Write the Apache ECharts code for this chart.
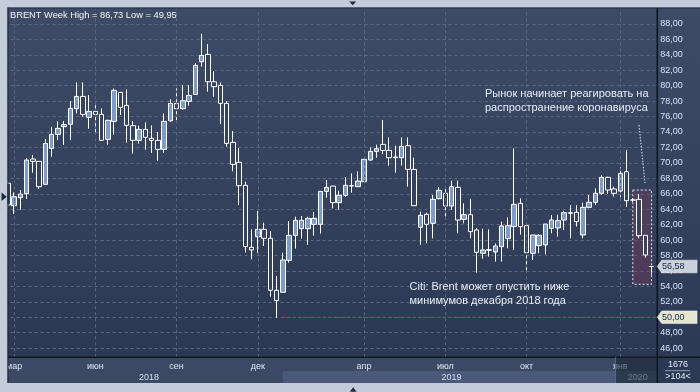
<!DOCTYPE html>
<html>
<head>
<meta charset="utf-8">
<script src="https://cdn.jsdelivr.net/npm/echarts@6/dist/echarts.min.js"></script>
<style>
html,body{margin:0;padding:0;background:#c3ccd9;}
#c{width:700px;height:392px;}
</style>
</head>
<body>
<div id="c"></div>
<script>
// ---- data (weekly BRENT candles) ----
const firstWeek = '2018-02-26';
const opens = [67.36,64.46,65.49,66.01,70.50,70.20,67.22,71.88,73.69,74.69,
74.99,77.02,78.61,75.90,76.67,76.28,73.05,75.38,79.13,77.45,
74.82,72.92,74.34,73.18,72.92,71.75,75.46,77.71,77.02,77.97,
78.87,83.10,84.05,80.51,80.04,77.71,72.66,70.07,67.09,59.06,
60.44,61.39,60.23,53.50,53.24,57.38,60.62,61.48,61.48,62.04,
62.04,66.31,67.00,64.85,65.80,67.05,66.92,67.57,70.37,71.49,
72.40,71.62,70.76,70.67,72.23,69.16,61.65,63.34,62.17,65.36,
66.06,64.41,66.83,62.69,63.29,61.31,58.29,58.68,58.46,59.15,
60.19,61.74,64.76,61.87,58.29,59.28,59.37,61.52,61.57,62.60,
63.55,63.60,60.66,64.24,64.89,66.06,68.13,66.62,66.35,68.85,
65.19,65.28,60.62,56.58];
const closes = [64.55,65.62,65.97,70.37,70.20,66.92,72.53,73.69,74.47,74.95,
77.06,78.61,76.28,76.67,76.28,72.92,75.51,79.39,77.19,74.86,
72.92,74.34,73.31,72.92,71.75,75.38,77.71,77.02,78.05,78.74,
82.63,83.92,80.51,79.87,77.71,72.53,69.81,67.05,59.15,58.72,
61.39,60.23,53.50,52.16,57.42,60.62,62.56,62.56,62.82,62.82,
66.31,66.83,64.85,65.80,67.09,67.00,67.65,70.46,71.49,71.84,
71.62,70.67,70.67,72.14,69.16,64.46,63.21,62.04,65.28,66.44,
64.41,66.92,62.60,63.29,61.09,58.42,58.72,58.76,59.24,61.83,
61.87,64.63,61.74,58.37,60.66,60.62,62.08,62.60,62.52,63.55,
63.47,62.39,64.24,64.89,66.06,68.13,66.49,66.06,68.64,65.10,
65.19,60.57,58.07,56.58];
const lows = [63.90,63.38,63.90,65.32,68.73,66.62,67.22,70.80,72.96,72.31,
72.96,76.41,75.98,74.43,73.74,72.92,72.36,73.65,76.20,72.62,
71.19,72.49,71.71,71.28,70.28,71.28,75.33,75.55,76.85,77.41,
78.87,82.46,79.22,78.57,75.03,72.10,68.92,64.54,58.37,57.51,
58.37,59.24,52.68,49.95,53.24,57.08,58.89,60.19,59.37,60.57,
60.83,65.49,64.11,63.90,65.62,66.14,66.92,67.57,70.28,70.67,
71.15,69.64,68.73,69.64,66.92,64.46,59.37,59.58,60.23,65.28,
62.69,63.90,60.88,62.17,60.23,55.78,57.60,57.86,57.21,57.21,
58.93,58.72,60.70,56.00,57.42,58.29,58.16,60.88,60.44,61.31,
60.23,61.74,60.23,64.11,64.54,65.84,65.97,65.62,65.54,64.30,
64.95,60.23,57.72,55.48];
const highs = [67.80,66.18,66.49,70.63,71.02,70.25,73.09,74.69,75.38,75.42,
78.01,80.43,80.43,78.79,77.62,77.06,75.60,79.65,79.20,79.52,
75.42,74.82,75.25,74.86,74.00,76.41,78.23,79.65,80.08,80.08,
82.93,86.73,85.39,81.89,80.43,78.01,74.13,71.93,67.57,61.39,
63.77,62.26,61.18,55.35,58.37,62.47,63.03,63.12,63.03,63.64,
66.31,67.78,67.00,66.40,68.17,68.64,68.90,70.46,72.01,72.36,
75.55,73.31,72.23,73.31,73.31,70.67,63.68,63.55,65.84,66.88,
66.92,67.70,67.70,64.76,65.36,61.57,61.48,61.39,59.58,62.39,
62.95,71.88,65.41,61.87,60.66,60.79,62.08,63.25,63.29,63.81,
64.54,64.54,64.85,65.84,66.70,68.43,68.21,66.92,69.42,71.67,
65.45,65.97,60.62,56.58];

const yTickMin = 44, yTickMax = 90, yTickStep = 2;
const monthTickIdx = [1,14,27,40,57,70,83,98];
const monthTickLabels = ['мар','июн','сен','дек','апр','июл','окт','янв'];
const yearLabels = ['2018','2019','2020'];
const yearLabelPos = [22.6, 71.0, 100.8];
const yearBoundIdx = [44, 97];
const weekHigh = 86.73, weekLow = 49.95;
const lastPrice = 56.58, supportLevel = 50.00, supportFromIdx = 44;
const totalBars = 1676, visibleBars = 104;
const highlightFromIdx = 100, highlightToIdx = 103, highlightTop = 66.49, highlightBottom = 54.27;
const title = 'BRENT Week';
const note1 = 'Рынок начинает реагировать на\nраспространение коронавируса';
const note2 = 'Citi: Brent может опустить ниже\nминимумов декабря 2018 года';

// ---- build ----
const cats = [];
{ let t = Date.parse(firstWeek + 'T00:00:00Z');
  for (let i = 0; i < opens.length; i++) { cats.push(new Date(t).toISOString().slice(0,10)); t += 7*864e5; } }
const fmt = v => v.toFixed(2).replace('.', ',');
const FONT = '"Liberation Sans", Arial, sans-serif';
const gridColor = '#5a6882';
const plotBottomValue = 44.82;

const chart = echarts.init(document.getElementById('c'), null, {renderer:'canvas', width:700, height:392});
chart.setOption({
  backgroundColor: '#c3ccd9',
  animation: false,
  grid: {left: 4.675, right: 45.325, top: 8.5, bottom: 28.4},
  xAxis: [{
    type: 'category', data: cats, boundaryGap: true, offset: -6.3,
    axisLine: {show: false}, axisTick: {show: false}, splitLine: {show: false},
    axisLabel: {
      interval: (i) => monthTickIdx.includes(i),
      formatter: (v, i) => { const k = monthTickIdx.indexOf(i); return k >= 0 ? monthTickLabels[k] : ''; },
      color: '#dfe5f0', fontSize: 9, fontFamily: FONT, margin: 9, verticalAlign: 'middle'
    }
  }],
  yAxis: [{
    type: 'value', position: 'right', offset: 2.6, min: yTickMin, max: yTickMax, interval: yTickStep,
    axisLine: {show: false}, axisTick: {show: false},
    axisLabel: {formatter: fmt, color: '#d6e2f6', fontSize: 9, fontFamily: FONT, margin: 3, showMinLabel: false, showMaxLabel: false},
    splitLine: {show: true, showMinLine: false, showMaxLine: false, lineStyle: {color: gridColor, type: [3,3], width: 1}}
  }],
  series: [
    {
      type: 'line', data: [], z: 1, silent: true,
      markLine: {silent: true, symbol: 'none', label: {show: false}, animation: false,
        lineStyle: {color: gridColor, type: [3,3], width: 1},
        data: monthTickIdx.map(i => [{coord: [cats[i], plotBottomValue]}, {coord: [cats[i], yTickMax]}])}
    },
    {
      type: 'candlestick', z: 2, barWidth: 5,
      data: cats.map((c, i) => [opens[i], closes[i], lows[i], highs[i]]),
      itemStyle: {color: '#7f9cc8', color0: '#354260', borderColor: '#ffffff', borderColor0: '#ffffff', borderWidth: 1}
    },
    {
      type: 'line', data: [], z: 5, silent: true,
      markArea: {silent: true, animation: false,
        itemStyle: {color: 'rgba(135,62,90,0.33)', borderColor: '#e4e4ec', borderWidth: 1, borderType: [2,2]},
        data: [[{xAxis: cats[highlightFromIdx], yAxis: highlightTop}, {xAxis: cats[highlightToIdx], yAxis: highlightBottom}]]}
    }
  ]
});

const px = i => chart.convertToPixel({xAxisIndex: 0}, cats[i]);
const step = px(1) - px(0);
const pxF = f => px(0) + f * step;
const py = v => chart.convertToPixel({yAxisIndex: 0}, v);

const L = 8, T = 8, AX = 657.3, B = 357.3, BB = 383;
const grad = () => new echarts.graphic.LinearGradient(0, 0, 0, 1, [{offset: 0, color: '#3e4b67'}, {offset: 1, color: '#2c3853'}]);
const els = [];
els.push({type: 'rect', z: -10, shape: {x: L, y: T, width: AX - L, height: B - T}, style: {fill: grad()}});
els.push({type: 'rect', z: -10, shape: {x: AX, y: T, width: 700 - AX, height: BB - T}, style: {fill: grad()}});
els.push({type: 'rect', z: -10, shape: {x: L, y: B, width: AX - L, height: BB - B}, style: {fill: '#3c4965'}});
const yb = px(yearBoundIdx[0]);
els.push({type: 'rect', z: -9, shape: {x: yb, y: 371, width: AX - yb, height: BB - 371}, style: {fill: '#4a5977'}});
yearLabels.forEach((t, k) => els.push({type: 'text', z: 15, x: pxF(yearLabelPos[k]), y: 377.3,
  style: {text: t, fill: '#d8dfec', font: '9px ' + FONT, align: 'center', verticalAlign: 'middle'}}));
const ov = px(yearBoundIdx[1]) + 1;
els.push({type: 'rect', z: 20, shape: {x: ov, y: B, width: AX - ov, height: BB - B}, style: {fill: 'rgba(24,32,50,0.55)'}});
els.push({type: 'line', z: 21, shape: {x1: ov + 0.5, y1: B, x2: ov + 0.5, y2: BB}, style: {stroke: '#5a6884', lineWidth: 1}});
// frame lines
els.push({type: 'line', z: 8, shape: {x1: L, y1: B, x2: 700, y2: B}, style: {stroke: '#0e1522', lineWidth: 1.5}});
els.push({type: 'line', z: 8, shape: {x1: AX, y1: T, x2: AX, y2: BB}, style: {stroke: '#0e1522', lineWidth: 1.5}});
// support line
els.push({type: 'line', z: 6, shape: {x1: px(supportFromIdx), y1: py(supportLevel), x2: AX, y2: py(supportLevel)},
  style: {stroke: '#d02a40', lineWidth: 1, lineDash: [3, 2]}});
// price tags
function tag(v, fill) {
  const y = py(v);
  els.push({type: 'polygon', z: 30, shape: {points: [[AX, y], [AX + 4.5, y - 6.3], [697, y - 6.3], [697, y + 6.3], [AX + 4.5, y + 6.3]]},
    style: {fill: fill, stroke: '#eef1f5', lineWidth: 0.6}});
  els.push({type: 'text', z: 31, x: 662, y: y + 0.5, style: {text: fmt(v), fill: '#1d2840', font: '9px ' + FONT, align: 'left', verticalAlign: 'middle'}});
}
tag(lastPrice, '#c9d1dd');
tag(supportLevel, '#e4e6d2');
// bottom-right counters
els.push({type: 'text', z: 30, x: 678, y: 364.5, style: {text: String(totalBars), fill: '#e0e7f3', font: '9px ' + FONT, align: 'center', verticalAlign: 'middle'}});
els.push({type: 'line', z: 30, shape: {x1: 665, y1: 370.7, x2: 690, y2: 370.7}, style: {stroke: '#8e9cb6', lineWidth: 1}});
els.push({type: 'text', z: 30, x: 678, y: 377, style: {text: '>' + visibleBars + '<', fill: '#e0e7f3', font: '9px ' + FONT, align: 'center', verticalAlign: 'middle'}});
// header
els.push({type: 'text', z: 60, x: 10, y: 15, style: {text: title + ' High = ' + fmt(weekHigh) + ' Low = ' + fmt(weekLow),
  fill: '#f2f5fb', font: '9.3px ' + FONT, align: 'left', verticalAlign: 'middle'}});
// annotations
els.push({type: 'text', z: 60, x: 485, y: 87.5, style: {text: note1, fill: '#e8edf6', font: '11px ' + FONT, lineHeight: 13.5, align: 'left', verticalAlign: 'top'}});
els.push({type: 'text', z: 60, x: 409.5, y: 279.5, style: {text: note2, fill: '#e8edf6', font: '11px ' + FONT, lineHeight: 14, align: 'left', verticalAlign: 'top'}});
els.push({type: 'line', z: 60, shape: {x1: 639, y1: 125, x2: 645, y2: 183}, style: {stroke: '#c9cdd8', lineWidth: 1.2, lineDash: [1.5, 1.5]}});
// outer frame
els.push({type: 'rect', z: 50, shape: {x: 0, y: 0, width: 7.5, height: 392}, style: {fill: '#c3ccd9'}});
els.push({type: 'rect', z: 50, shape: {x: 0, y: 0, width: 700, height: 7.5}, style: {fill: '#c3ccd9'}});
els.push({type: 'rect', z: 50, shape: {x: 0, y: BB, width: 700, height: 392 - BB}, style: {fill: '#c3ccd9'}});
els.push({type: 'line', z: 51, shape: {x1: 7.9, y1: 7.5, x2: 7.9, y2: BB}, style: {stroke: '#1b2436', lineWidth: 1.2}});
els.push({type: 'line', z: 51, shape: {x1: 7.5, y1: 7.9, x2: 700, y2: 7.9}, style: {stroke: '#1b2436', lineWidth: 1}});
els.push({type: 'polygon', z: 52, shape: {points: [[1.5, 192.5], [6.8, 196.8], [1.5, 201]]}, style: {fill: '#1c2940'}});
els.push({type: 'polygon', z: 52, shape: {points: [[349.3, 1.5], [356.2, 1.5], [352.7, 5.3]]}, style: {fill: '#1c2940'}});
els.push({type: 'polygon', z: 52, shape: {points: [[349.8, 391.8], [356.6, 391.8], [353.2, 387.3]]}, style: {fill: '#1c2940'}});
chart.setOption({graphic: {elements: els}});
</script>
</body>
</html>
